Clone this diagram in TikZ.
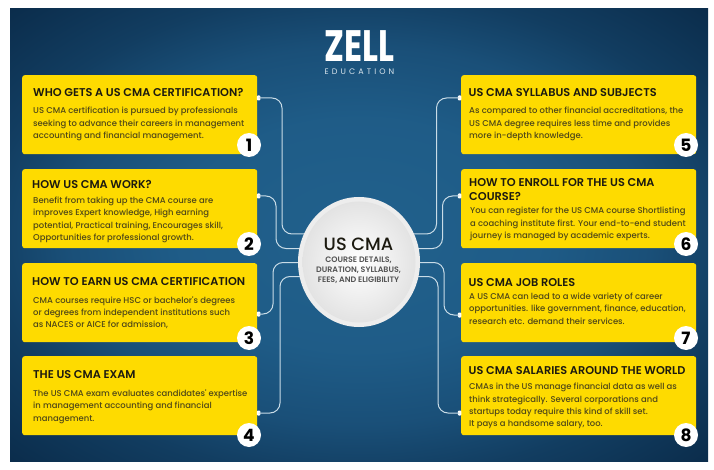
\documentclass[tikz,border=0pt]{standalone}
\usepackage{fontspec}
\setmainfont{Poppins}
\newfontfamily\pmed{Poppins Medium}
\newfontfamily\psemi{Poppins SemiBold}
\usetikzlibrary{shapes.geometric,calc,shadows}
\definecolor{boxy}{HTML}{FEDB00}
\definecolor{inkd}{HTML}{1C1A10}
\definecolor{bodyt}{HTML}{4E4718}
\definecolor{bgmid}{HTML}{2A6C98}
\definecolor{wire}{HTML}{C9DCE7}
\pgfdeclareradialshading{bgglow}{\pgfpoint{0bp}{0bp}}{%
  rgb(0bp)=(0.13,0.38,0.55);
  rgb(13bp)=(0.12,0.36,0.53);
  rgb(21bp)=(0.10,0.31,0.47);
  rgb(27bp)=(0.07,0.24,0.38);
  rgb(36bp)=(0.04,0.17,0.29);
  rgb(50bp)=(0.04,0.17,0.29)}
\tikzset{
  card/.style={fill=boxy,rounded corners=2.5pt,draw=none,minimum width=235pt,minimum height=79pt,inner sep=0,anchor=north west},
  hd/.style={anchor=base west,inner sep=0,font=\psemi\fontsize{11.3}{12}\selectfont,text=inkd},
  bd/.style={anchor=base west,inner sep=0,font=\pmed\fontsize{8.45}{12.4}\selectfont,text=bodyt,align=left},
  num/.style={circle,fill=white,minimum size=24pt,inner sep=0,font=\fontsize{17}{17}\selectfont\bfseries,text=black},
  wirel/.style={draw=wire,line width=1pt,rounded corners=10pt},
  port/.style={rectangle,fill=white,rounded corners=1pt,minimum width=3.5pt,minimum height=5pt,inner sep=0},
  subt/.style={anchor=base,inner sep=0,font=\psemi\fontsize{7.9}{10}\selectfont,text=black!68}
}
\begin{document}
\begin{tikzpicture}[x=1pt,y=-1pt]
\useasboundingbox (0,0) rectangle (714,470);
\fill[white] (0,0) rectangle (714,470);
\shade[shading=bgglow] (10,9) rectangle (708,461);

% cards
\node[card] (c1) at (22,75) {};
\node[card] (c2) at (22,169) {};
\node[card] (c3) at (22,263) {};
\node[card] (c4) at (22,356) {};
\node[card] (c5) at (461,75) {};
\node[card] (c6) at (461,169) {};
\node[card] (c7) at (461,263) {};
\node[card] (c8) at (461,356) {};

% ports
\node[port] (p1) at (258.5,98) {};
\node[port] (p2) at (258.5,196) {};
\node[port] (p3) at (258.5,314) {};
\node[port] (p4) at (258.5,413) {};
\node[port] (p5) at (459.5,98) {};
\node[port] (p6) at (459.5,196) {};
\node[port] (p7) at (459.5,315) {};
\node[port] (p8) at (459.5,413) {};
\coordinate (h1) at (310,234);
\coordinate (h2) at (305,248.5);
\coordinate (h3) at (305,262.5);
\coordinate (h4) at (305,276.5);
\coordinate (h5) at (408,234);
\coordinate (h6) at (413,248.5);
\coordinate (h7) at (413,262.5);
\coordinate (h8) at (413,276.5);
\draw[wirel] (p1.center) -| (282,234) -- (h1);
\draw[wirel] (p2.center) -| (276,248.5) -- (h2);
\draw[wirel] (p3.center) -| (273,262.5) -- (h3);
\draw[wirel] (p4.center) -| (280,276.5) -- (h4);
\draw[wirel] (p5.center) -| (436.5,234) -- (h5);
\draw[wirel] (p6.center) -| (442.5,248.5) -- (h6);
\draw[wirel] (p7.center) -| (444,262.5) -- (h7);
\draw[wirel] (p8.center) -| (438,276.5) -- (h8);

% centre
\node[ellipse,minimum width=122pt,minimum height=130pt,inner sep=0,fill=black!7] (hub) at (359,262) {};
\node[ellipse,minimum width=113pt,minimum height=121pt,inner sep=0,inner color=white,outer color=black!11] (hubin) at (359,262) {};
\node[anchor=base,inner sep=0,font=\pmed\fontsize{17.8}{19}\selectfont,text=inkd] (t0) at (358.5,251) {US CMA};
\node[subt] (t1) at (358.5,262) {COURSE DETAILS,};
\node[subt] (t2) at (358.5,272) {DURATION, SYLLABUS,};
\node[subt] (t3) at (358.5,282) {FEES, AND ELIGIBILITY};

% numbers
\node[num] (n1) at (249,145) {1};
\node[num] (n2) at (249,244) {2};
\node[num] (n3) at (249,338) {3};
\node[num] (n4) at (249,435) {4};
\node[num] (n5) at (686,145) {5};
\node[num] (n6) at (686,244) {6};
\node[num] (n7) at (686,338) {7};
\node[num] (n8) at (686,435) {8};

% logo
\node[anchor=base,inner sep=0,xscale=0.76,font=\fontsize{44}{44}\selectfont\bfseries,text=white] (logo) at (359.5,61.5) {ZELL};
\node[anchor=base,inner sep=0,font=\fontsize{8}{8}\selectfont,text=white!82!bgmid] (edu) at (359.5,75) {E\hspace{3.1pt}D\hspace{3.1pt}U\hspace{3.1pt}C\hspace{3.1pt}A\hspace{3.1pt}T\hspace{3.1pt}I\hspace{3.1pt}O\hspace{3.1pt}N};

% headings and bodies, left
\node[hd] (h1t) at (33,96.5) {WHO GETS A US CMA CERTIFICATION?};
\node[bd] (b1a) at (33,114) {US CMA certification is pursued by professionals};
\node[bd] (b1b) at (33,126.4) {seeking to advance their careers in management};
\node[bd] (b1c) at (33,138.8) {accounting and financial management.};
\node[hd] (h2t) at (32,189) {HOW US CMA WORK?};
\node[bd] (b2a) at (33,203.5) {Benefit from taking up the CMA course are};
\node[bd] (b2b) at (33,216) {improves Expert knowledge, High earning};
\node[bd] (b2c) at (33,228.4) {potential, Practical training, Encourages skill,};
\node[bd] (b2d) at (33,240.8) {Opportunities for professional growth.};
\node[hd] (h3t) at (32,285) {HOW TO EARN US CMA CERTIFICATION};
\node[bd] (b3a) at (33,303) {CMA courses require HSC or bachelor's degrees};
\node[bd] (b3b) at (33,315.4) {or degrees from independent institutions such};
\node[bd] (b3c) at (33,327.8) {as NACES or AICE for admission,};
\node[hd] (h4t) at (33,378.5) {THE US CMA EXAM};
\node[bd] (b4a) at (33,396.5) {The US CMA exam evaluates candidates' expertise};
\node[bd] (b4b) at (33,408.9) {in management accounting and financial};
\node[bd] (b4c) at (33,421.3) {management.};
% right
\node[hd] (h5t) at (468.5,96.5) {US CMA SYLLABUS AND SUBJECTS};
\node[bd] (b5a) at (469,114) {As compared to other financial accreditations, the};
\node[bd] (b5b) at (469,126.4) {US CMA degree requires less time and provides};
\node[bd] (b5c) at (469,138.8) {more in-depth knowledge.};
\node[hd] (h6t) at (469,187) {HOW TO ENROLL FOR THE US CMA};
\node[hd] (h6u) at (469,201) {COURSE?};
\node[bd] (b6a) at (470,214) {You can register for the US CMA course Shortlisting};
\node[bd] (b6b) at (470,226.4) {a coaching institute first. Your end-to-end student};
\node[bd] (b6c) at (470,238.8) {journey is managed by academic experts.};
\node[hd] (h7t) at (468.5,286.5) {US CMA JOB ROLES};
\node[bd] (b7a) at (469,299.5) {A US CMA can lead to a wide variety of career};
\node[bd] (b7b) at (469,311.9) {opportunities. like government, finance, education,};
\node[bd] (b7c) at (469,324.3) {research etc. demand their services.};
\node[hd] (h8t) at (468.5,374.5) {US CMA SALARIES AROUND THE WORLD};
\node[bd] (b8a) at (469,389.5) {CMAs in the US manage financial data as well as};
\node[bd] (b8b) at (469,402) {think strategically. Several corporations and};
\node[bd] (b8c) at (469,414.4) {startups today require this kind of skill set.};
\node[bd] (b8d) at (469,426.8) {It pays a handsome salary, too.};
\end{tikzpicture}
\end{document}
